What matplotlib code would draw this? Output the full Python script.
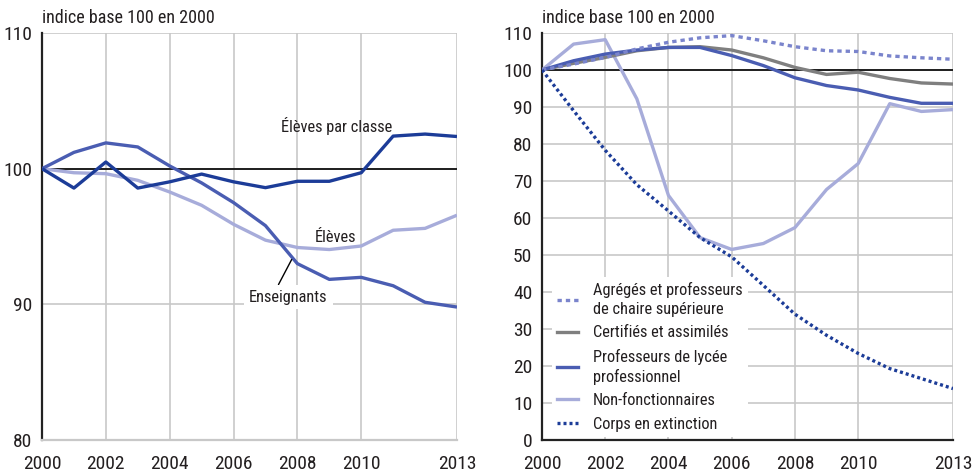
import matplotlib
matplotlib.use("Agg")
import matplotlib.pyplot as plt
from matplotlib.lines import Line2D

plt.rcParams['font.family'] = ['Roboto Condensed', 'DejaVu Sans']

years = list(range(2000, 2014))
xticks = [2000, 2002, 2004, 2006, 2008, 2010, 2013]

# Left panel
eleves_par_classe = [100, 98.57, 100.49, 98.57, 99.03, 99.6, 99.03, 98.6, 99.07, 99.07, 99.7, 102.4, 102.55, 102.37]
enseignants = [100, 101.2, 101.9, 101.6, 100.2, 98.95, 97.5, 95.8, 93.0, 91.84, 91.99, 91.37, 90.15, 89.8]
eleves = [100, 99.7, 99.63, 99.14, 98.28, 97.3, 95.9, 94.73, 94.19, 94.04, 94.3, 95.46, 95.6, 96.57]

# Right panel
agreges = [100, 101.6, 103.4, 105.7, 107.5, 108.7, 109.3, 107.9, 106.3, 105.2, 105.0, 103.8, 103.3, 102.9]
certifies = [100, 101.8, 103.4, 105.2, 106.1, 106.3, 105.4, 103.3, 100.7, 98.8, 99.4, 97.7, 96.5, 96.2]
plp = [100, 102.5, 104.3, 105.4, 106.1, 106.1, 103.9, 101.2, 97.9, 95.8, 94.6, 92.6, 91.0, 91.0]
non_fonct = [100, 107.0, 108.2, 92.2, 66.1, 54.7, 51.5, 53.1, 57.4, 67.7, 74.7, 90.9, 88.8, 89.3]
corps_ext = [100, 89.0, 78.3, 69.0, 61.9, 54.7, 49.5, 41.8, 34.0, 28.3, 23.4, 19.3, 16.6, 13.9]

DARK = '#1c3c98'
MED = '#4a5db2'
LIGHT = '#a7acda'
DOTB = '#7a84cc'
GREY = '#7f7f7f'
GRID = '#c8c8c8'
TXT = '#231f20'

fig = plt.figure(figsize=(9.73, 4.75), dpi=100)
W, H = 973, 475
axL = fig.add_axes([42 / W, 35 / H, 415 / W, 407 / H])
axR = fig.add_axes([542 / W, 35 / H, 411 / W, 407 / H])

def style(ax, ymin, ymax, yticks, bottom_color):
    ax.set_xlim(2000, 2013)
    ax.set_ylim(ymin, ymax)
    ax.set_xticks(xticks)
    ax.set_yticks(yticks)
    ax.tick_params(length=0, labelsize=14, colors=TXT)
    ax.tick_params(axis='x', pad=11)
    ax.tick_params(axis='y', pad=7)
    ax.grid(True, color=GRID, lw=1.2, zorder=0)
    for s in ['top', 'right']:
        ax.spines[s].set_visible(False)
    ax.spines['left'].set_color('#222222')
    ax.spines['left'].set_linewidth(1.6)
    ax.spines['bottom'].set_color(bottom_color)
    ax.spines['bottom'].set_linewidth(1.6)
    ax.axhline(100, color='#111111', lw=1.3, zorder=2)
    ax.text(0, 1.015, 'indice base 100 en 2000', transform=ax.transAxes,
            fontsize=13, color=TXT, ha='left', va='bottom')

style(axL, 80, 110, [80, 90, 100, 110], GRID)
style(axR, 0, 110, list(range(0, 111, 10)), '#222222')

lw = 2.4
axL.plot(years, eleves, color=LIGHT, lw=lw, zorder=3, solid_capstyle='butt')
axL.plot(years, enseignants, color=MED, lw=lw, zorder=4, solid_capstyle='butt')
axL.plot(years, eleves_par_classe, color=DARK, lw=lw, zorder=5, solid_capstyle='butt')

ann_fs = 11.8
axL.text(2009.23, 103.18, 'Élèves par classe', fontsize=ann_fs, color=TXT, ha='center', va='center')
axL.text(2009.2, 94.93, 'Élèves', fontsize=ann_fs, color=TXT, ha='center', va='center')
axL.annotate('Enseignants', xy=(2007.82, 93.3), xytext=(2007.72, 90.54),
             fontsize=ann_fs, color=TXT, ha='center', va='center',
             bbox=dict(boxstyle='square,pad=0.3', fc='white', ec='none'),
             arrowprops=dict(arrowstyle='-', color='black', lw=1.0, shrinkA=0, shrinkB=0,
                             relpos=(0.34, 1.0)),
             zorder=6)

axR.plot(years, non_fonct, color=LIGHT, lw=lw, zorder=3)
axR.plot(years, certifies, color=GREY, lw=lw, zorder=4)
axR.plot(years, plp, color=MED, lw=lw, zorder=5)
axR.plot(years, agreges, color=DOTB, lw=lw, ls=(0, (1.3, 1.2)), zorder=6)
axR.plot(years, corps_ext, color=DARK, lw=lw, ls=(0, (0.9, 0.9)), zorder=6)

handles = [
    Line2D([], [], color=DOTB, lw=lw, ls=(0, (1.3, 1.2))),
    Line2D([], [], color=GREY, lw=lw),
    Line2D([], [], color=MED, lw=lw),
    Line2D([], [], color=LIGHT, lw=lw),
    Line2D([], [], color=DARK, lw=lw, ls=(0, (0.9, 0.9))),
]
labels = ['Agrégés et professeurs\nde chaire supérieure', 'Certifiés et assimilés',
          'Professeurs de lycée\nprofessionnel', 'Non-fonctionnaires', 'Corps en extinction']
leg = axR.legend(handles, labels, loc='upper left', bbox_to_anchor=(0.025, 0.40),
                 frameon=True, facecolor='white', edgecolor='none', framealpha=1,
                 fancybox=False, fontsize=11.8, labelcolor=TXT, handlelength=1.3,
                 handletextpad=0.9, labelspacing=0.52, borderpad=0.3,
                 borderaxespad=0)
for t in leg.get_texts():
    t.set_linespacing(1.3)
leg.set_zorder(7)

fig.savefig('out.png', dpi=100)
